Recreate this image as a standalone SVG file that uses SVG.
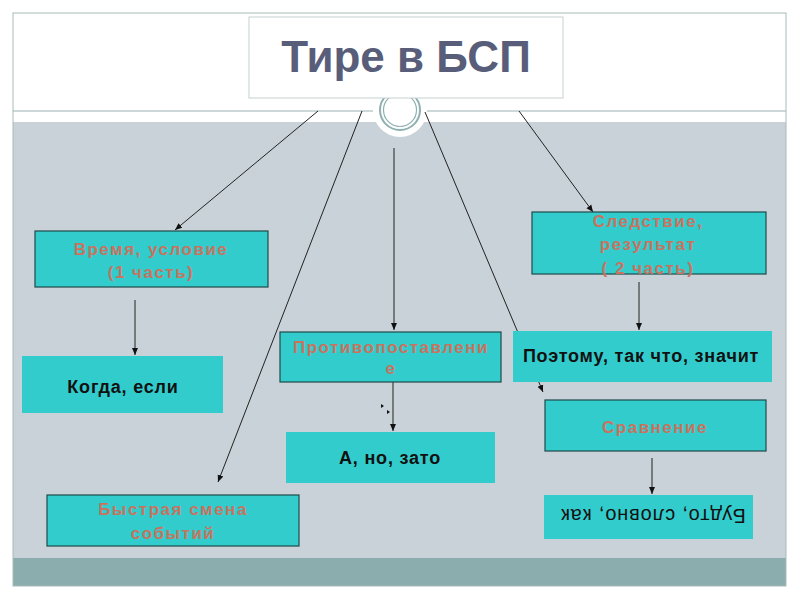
<svg xmlns="http://www.w3.org/2000/svg" width="800" height="600" viewBox="0 0 800 600">
<defs>
<marker id="ah" markerWidth="8" markerHeight="8" refX="7" refY="4" orient="auto" markerUnits="userSpaceOnUse">
<path d="M0,1 L7,4 L0,7 Z" fill="#111"/>
</marker>
<style>
.box{fill:#33CCCC;stroke:#1E4A4A;stroke-width:1.2}
.plain{fill:#33CCCC;stroke:none}
.sal{font-family:"Liberation Sans",Arial,sans-serif;font-weight:bold;font-size:17px;fill:#C9735F;text-anchor:middle;letter-spacing:1.5px}
.blk{font-family:"Liberation Sans",Arial,sans-serif;font-weight:bold;font-size:18px;fill:#111;text-anchor:middle;letter-spacing:0.8px}
.con{stroke:#222;stroke-width:1;fill:none;marker-end:url(#ah)}
</style>
</defs>
<rect width="800" height="600" fill="#fff"/>
<g id="slide">
<rect x="13" y="122" width="773" height="436" fill="#C8D2D8"/>
<rect x="13" y="558" width="773" height="28" fill="#8CADAD"/>
<rect x="13" y="13" width="773" height="573" fill="none" stroke="#A9BABA" stroke-width="1"/>
<line x1="13" y1="111" x2="373" y2="111" stroke="#9AB0B0" stroke-width="1"/>
<line x1="425" y1="111" x2="786" y2="111" stroke="#9AB0B0" stroke-width="1"/>
<circle cx="400" cy="110" r="27" fill="#fff"/>
<circle cx="400" cy="110" r="20" fill="#fff" stroke="#8FB0B0" stroke-width="2"/>
<circle cx="400" cy="110" r="16.5" fill="none" stroke="#8FB0B0" stroke-width="1.2"/>
</g>
<g id="title">
<rect x="249" y="17" width="314" height="81" fill="#fff" stroke="#C5CFCF" stroke-width="1"/>
<text x="406" y="72" font-family="Liberation Sans,Arial,sans-serif" font-weight="bold" font-size="44" fill="#585D7A" text-anchor="middle">Тире в БСП</text>
</g>
<g id="connectors">
<line class="con" x1="318" y1="111" x2="175" y2="230"/>
<line class="con" x1="362" y1="111" x2="218" y2="482"/>
<line class="con" x1="394" y1="148" x2="394" y2="330"/>
<line class="con" x1="425" y1="112" x2="543" y2="392"/>
<line class="con" x1="519" y1="111" x2="593" y2="212"/>
<line class="con" x1="135" y1="300" x2="135" y2="355"/>
<line class="con" x1="393" y1="382" x2="393" y2="431"/>
<line class="con" x1="639" y1="282" x2="639" y2="330"/>
<line class="con" x1="652" y1="458" x2="652" y2="494"/>
<path d="M381,404 L384,406 L381,408 Z M387,410 L390,412 L387,414 Z M395,449.5 L398,451.5 L395,453.5 Z" fill="#111"/>
</g>
<g id="n-vremya">
<rect class="box" x="35" y="231" width="233" height="56"/>
<text class="sal" x="151" y="255">Время, условие</text>
<text class="sal" x="151" y="278">(1 часть)</text>
</g>
<g id="n-kogda">
<rect class="plain" x="22" y="356" width="201" height="57"/>
<text class="blk" x="123" y="393">Когда, если</text>
</g>
<g id="n-protiv">
<rect class="box" x="280" y="332" width="221" height="50"/>
<text class="sal" x="391" y="353">Противопоставлени</text>
<text class="sal" x="391" y="374">е</text>
</g>
<g id="n-ano">
<rect class="plain" x="286" y="432" width="209" height="51"/>
<text class="blk" x="390" y="464">А, но, зато</text>
</g>
<g id="n-sled">
<rect class="box" x="532" y="212" width="234" height="62"/>
<text class="sal" x="648" y="227">Следствие,</text>
<text class="sal" x="648" y="250">результат</text>
<text class="sal" x="648" y="274">( 2 часть)</text>
</g>
<g id="n-poetomu">
<rect class="plain" x="513" y="331" width="259" height="51"/>
<text class="blk" x="641" y="362">Поэтому, так что, значит</text>
</g>
<g id="n-sravn">
<rect class="box" x="545" y="400" width="221" height="51"/>
<text class="sal" x="655" y="433">Сравнение</text>
</g>
<g id="n-budto">
<rect class="plain" x="544" y="495" width="209" height="44"/>
<text x="653" y="525" transform="rotate(180 653 517)" font-family="Liberation Sans,Arial,sans-serif" font-size="20" fill="#111" text-anchor="middle" letter-spacing="0.8">Будто, словно, как</text>
</g>
<g id="n-bystraya">
<rect class="box" x="47" y="495" width="252" height="51"/>
<text class="sal" x="173" y="515">Быстрая смена</text>
<text class="sal" x="173" y="539">событий</text>
</g>
</svg>
